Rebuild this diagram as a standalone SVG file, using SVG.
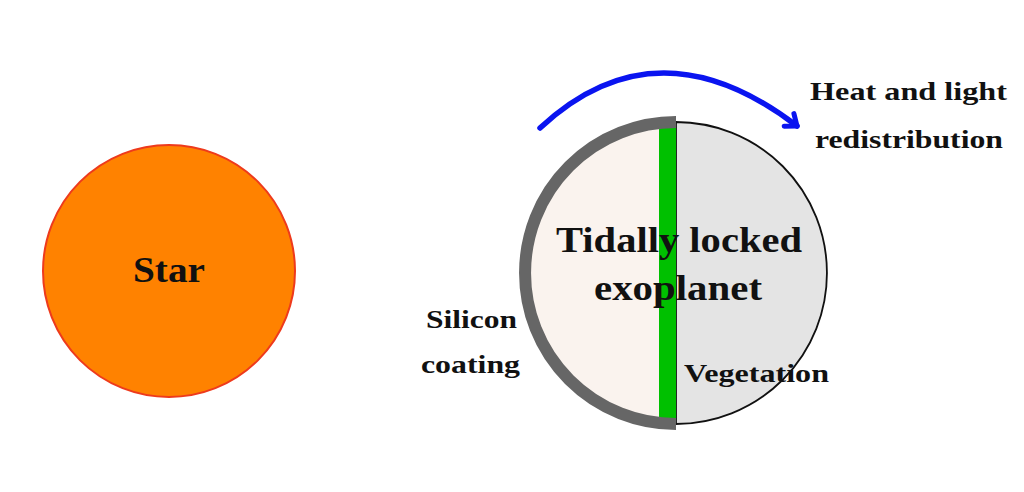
<svg xmlns="http://www.w3.org/2000/svg" width="1024" height="492" viewBox="0 0 1024 492">
<style>
text{font-family:"Liberation Serif","DejaVu Serif",serif;font-weight:bold;fill:#111;text-anchor:middle}
.big{font-size:35px}
.sm{font-size:25.5px}
</style>
<defs>
<marker id="chev" markerUnits="userSpaceOnUse" viewBox="-14 -11 18 22" markerWidth="18" markerHeight="22" refX="0" refY="0" orient="auto">
<path d="M-10,-8 L0,0 L-10,8" fill="none" stroke="#0a14f0" stroke-width="5" stroke-linecap="round" stroke-linejoin="round"/>
</marker>
</defs>
<rect width="1024" height="492" fill="#fff"/>
<g id="star">
<circle cx="169" cy="271" r="126" fill="#ff8200" stroke="#ee3a1c" stroke-width="2"/>
<text class="big" x="169" y="282" textLength="72" lengthAdjust="spacingAndGlyphs">Star</text>
</g>
<g id="planet">
<path d="M676,122 A151,151 0 0 0 676,424 Z" fill="#faf3ee"/>
<path d="M676,122 A151,151 0 0 1 676,424 Z" fill="#e4e4e4" stroke="#111" stroke-width="1.8"/>
<rect x="659" y="122" width="17" height="302" fill="#00c000"/>
<path d="M676,122 A151,151 0 0 0 676,424" fill="none" stroke="#666" stroke-width="12"/>
<text class="big" x="679" y="252" textLength="246" lengthAdjust="spacingAndGlyphs">Tidally locked</text>
<text class="big" x="678" y="300" textLength="168" lengthAdjust="spacingAndGlyphs">exoplanet</text>
</g>
<g id="labels">
<text class="sm" x="908.5" y="100" textLength="197" lengthAdjust="spacingAndGlyphs">Heat and light</text>
<text class="sm" x="909" y="148" textLength="188" lengthAdjust="spacingAndGlyphs">redistribution</text>
<text class="sm" x="471.5" y="328" textLength="91" lengthAdjust="spacingAndGlyphs">Silicon</text>
<text class="sm" x="470.5" y="373" textLength="99" lengthAdjust="spacingAndGlyphs">coating</text>
<text class="sm" x="756.5" y="382" textLength="145" lengthAdjust="spacingAndGlyphs">Vegetation</text>
</g>
<g id="connectors">
<path d="M540,128 Q657,19 797,126" fill="none" stroke="#0a14f0" stroke-width="5.5" stroke-linecap="round" marker-end="url(#chev)"/>
</g>
</svg>
